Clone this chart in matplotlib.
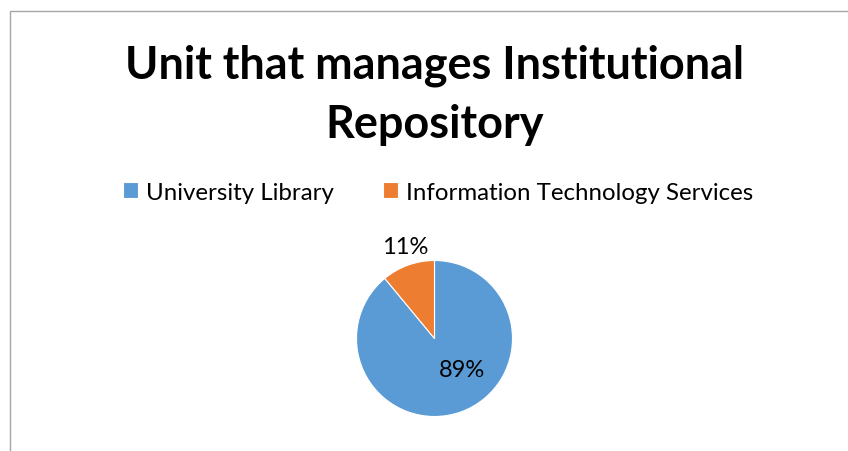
import numpy as np
import matplotlib
matplotlib.use('Agg')
import matplotlib.pyplot as plt
from matplotlib.patches import Rectangle

# data
units = ['University Library', 'Information Technology Services']
shares = [89, 11]
colors = ['#5B9BD5', '#ED7D31']
title = 'Unit that manages Institutional\nRepository'

# label placement (radius as fraction of pie radius, angle offset from wedge middle in deg)
labelRadius = [0.53, 1.24]
labelShift = [22, -2]

plt.rcParams['font.family'] = ['Lato', 'DejaVu Sans']

W, H = 848, 452
fig = plt.figure(figsize=(W/100, H/100), dpi=100, facecolor='w')

# chart area border (runs off the right/bottom of the crop)
fig.patches.append(Rectangle((9.5/W, -0.1), 1.2, 1 - 11.5/H + 0.1, transform=fig.transFigure,
                             fill=False, edgecolor='#a6a6a6', linewidth=1))

fig.text(434.5/W, 1 - 95/H, title, ha='center', va='center', fontsize=32.4, fontweight='bold',
         linespacing=1.5)

# pie axes: centre (434.5, 339.5) px, radius 78 px
cx, cy, r = 434.5, 339.5, 78
ax = fig.add_axes([(cx - r)/W, (H - cy - r)/H, 2*r/W, 2*r/H])
wedges, _ = ax.pie(shares, colors=colors, startangle=90, counterclock=False,
                   wedgeprops=dict(edgecolor='white', linewidth=0.8))
ax.set_xlim(-1, 1)
ax.set_ylim(-1, 1)
ax.set_aspect('equal')
ax.axis('off')

for w, s, rr, sh in zip(wedges, shares, labelRadius, labelShift):
    mid = np.deg2rad((w.theta1 + w.theta2)/2 + sh)
    ax.text(rr*np.cos(mid), rr*np.sin(mid), str(s) + '%', ha='center', va='center', fontsize=17)

fig.legend(wedges, units, loc='center', bbox_to_anchor=(438/W, 1 - 193/H), ncol=2, frameon=False,
           fontsize=17.3, handlelength=0.62, handleheight=0.62, handletextpad=0.33,
           columnspacing=2.05, borderpad=0, borderaxespad=0)

fig.savefig('out.png', dpi=100)
